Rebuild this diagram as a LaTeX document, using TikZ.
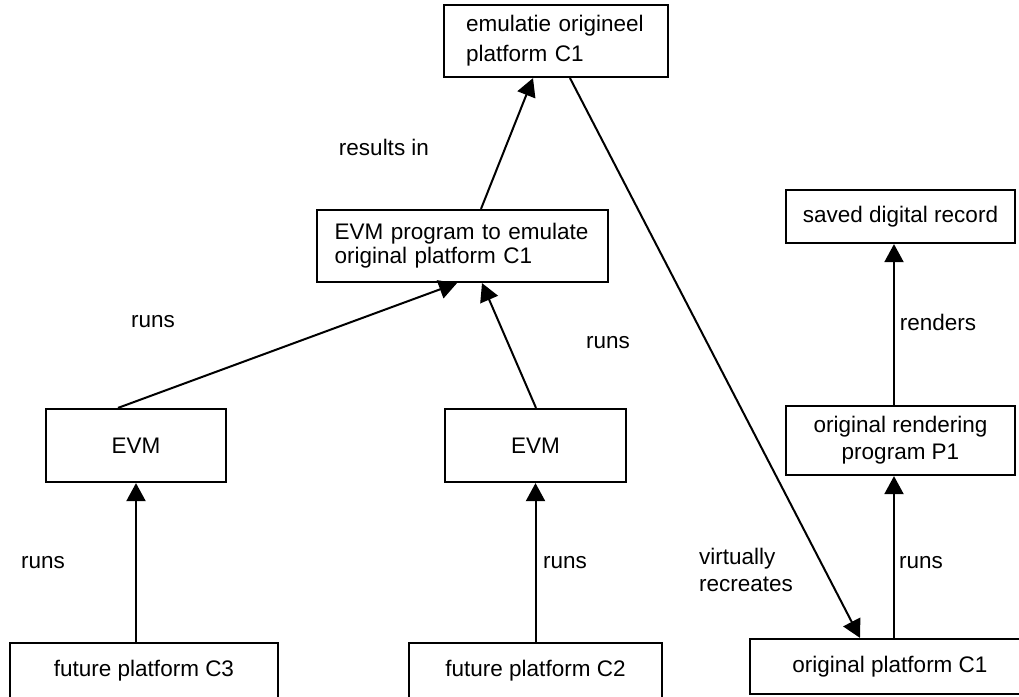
\documentclass[tikz,border=0pt]{standalone}
\usepackage{fontspec}
\setmainfont{Liberation Sans}
\usetikzlibrary{arrows.meta}
\begin{document}
\begin{tikzpicture}[x=1pt,y=-1pt,
  font=\fontsize{22.5}{27}\selectfont,
  box/.style={draw, line width=2.2pt, rectangle, inner sep=0pt},
  lbl/.style={inner sep=0pt},
  link/.style={line width=2pt, -{Triangle[length=18pt,width=19pt]}},
]
\clip (0,0) rectangle (1019,696);

% boxes
\node[box, minimum width=224pt, minimum height=72pt, text width=180pt, align=left,
      font=\fontsize{22.5}{30}\selectfont] (emu) at (556,41) {emulatie origineel\\platform C1};
\node[box, minimum width=291pt, minimum height=72pt, text width=256pt, align=left,
      font=\fontsize{22.5}{24}\selectfont] (prog) at (462.5,246) {EVM program to emulate\\original platform C1};
\node[box, minimum width=180pt, minimum height=73pt] (evmL) at (136,445.5) {EVM};
\node[box, minimum width=181pt, minimum height=73pt] (evmR) at (535.5,445.5) {EVM};
\node[box, minimum width=268pt, minimum height=56pt] (futC3) at (144,671) {future platform C3};
\node[box, minimum width=253pt, minimum height=56pt] (futC2) at (535.5,671) {future platform C2};
\node[box, minimum width=280pt, minimum height=55pt] (origC1) at (890,666.5) {original platform C1};
\node[box, minimum width=229pt, minimum height=69pt, align=center] (rend) at (900.5,440.5) {original rendering\\program P1};
\node[box, minimum width=229pt, minimum height=53pt] (saved) at (900.5,216.5) {saved digital record};

% connectors
\draw[link] ([xshift=18.5pt]prog.north) -- ([xshift=-23pt]emu.south);
\draw[link] ([xshift=14pt]emu.south) -- ([xshift=-30pt]origC1.north);
\draw[link] ([xshift=-18pt]evmL.north) -- ([xshift=-5.5pt]prog.south);
\draw[link] ([xshift=0.5pt]evmR.north) -- ([xshift=19.5pt]prog.south);
\draw[link] ([xshift=-8pt]futC3.north) -- (evmL.south);
\draw[link] (futC2.north) -- (evmR.south);
\draw[link] ([xshift=4pt]origC1.north) -- ([xshift=-6.5pt]rend.south);
\draw[link] ([xshift=-6.5pt]rend.north) -- ([xshift=-6.5pt]saved.south);

% labels
\node[lbl] (lresults) at (384,147) {results in};
\node[lbl] (lrunsA) at (153,322) {runs};
\node[lbl] (lrunsB) at (608,343) {runs};
\node[lbl] (lrenders) at (938,322) {renders};
\node[lbl] (lrunsC) at (43,563) {runs};
\node[lbl] (lrunsD) at (565,563) {runs};
\node[lbl, anchor=west, align=left] (lvirt) at (699,570) {virtually\\recreates};
\node[lbl] (lrunsE) at (921,563) {runs};
\end{tikzpicture}
\end{document}
